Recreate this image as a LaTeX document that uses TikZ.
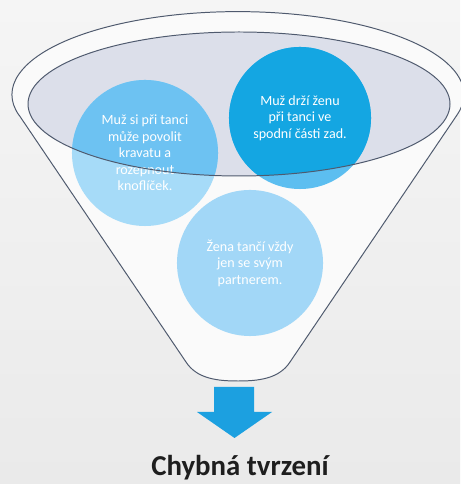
\documentclass[tikz,border=0pt]{standalone}
\usepackage{fontspec}
\setmainfont{Carlito}
\usepackage{tikz}
\usetikzlibrary{positioning, calc}
\definecolor{PageTop}{HTML}{F5F5F5}
\definecolor{PageBottom}{HTML}{EAEAEA}
\definecolor{FunnelWhite}{HTML}{FAFAFA}
\definecolor{FunnelLine}{HTML}{4F5A6E}
\definecolor{MouthGrey}{HTML}{DCDFEA}
\definecolor{BubbleOneLight}{HTML}{A6DBF8}
\definecolor{BubbleOneDark}{HTML}{6DC2F2}
\definecolor{BubbleTwoLight}{HTML}{5CBEF0}
\definecolor{BubbleTwoDark}{HTML}{14A6E2}
\definecolor{BubbleThree}{HTML}{A2D7F7}
\definecolor{ArrowBlue}{HTML}{1CA0E0}
\definecolor{TitleInk}{HTML}{1E1E1E}
\tikzset{
  % Funnel styles
  funnelline/.style={draw=FunnelLine, line width=0.7pt},
  % Bubble styles
  bubble/.style={circle, inner sep=0pt, minimum size=3.65cm, text=white, font=\fontsize{10}{11.8}\selectfont, align=center},
  % Title style
  verdict/.style={font=\fontsize{20.5}{22}\selectfont\bfseries, text=TitleInk, inner sep=0pt}
}

\begin{document}
\begin{tikzpicture}[x=0.025cm, y=0.025cm]
  % Canvas
  \shade[top color=PageTop, bottom color=PageBottom] (0,0) rectangle (460,484);
  \useasboundingbox (0,0) rectangle (460,484);
  \coordinate (rim) at (238,389);
  \coordinate (mouth) at (239,380);

  % Funnel body
  \fill[FunnelWhite] (rim) ellipse [x radius=226, y radius=83];
  \fill[FunnelWhite] (19,369) -- (186,122) .. controls (197,105) and (218,103) .. (238,103)
    .. controls (258,103) and (279,105) .. (290,122) -- (457,369) -- cycle;
  \draw[funnelline] (19,369) -- (186,122) .. controls (197,105) and (218,103) .. (238,103)
    .. controls (258,103) and (279,105) .. (290,122) -- (457,369)
    arc [start angle=-14.2, end angle=194.2, x radius=226, y radius=83];

  % Mouth of the funnel
  \fill[MouthGrey] (mouth) ellipse [x radius=211, y radius=72];

  % Bubbles
  \node[bubble, fill=BubbleOneLight,
    path picture={\fill[BubbleOneDark] (mouth) ellipse [x radius=211, y radius=72];}] (c1) at (145,331) {
    Muž si při tanci\\
    může povolit\\
    kravatu a\\
    rozepnout\\
    knoflíček.
  };
  \node[bubble, minimum size=3.55cm, fill=BubbleTwoLight,
    path picture={\fill[BubbleTwoDark] (mouth) ellipse [x radius=211, y radius=72];}] (c2) at (300,366) {
    Muž drží ženu\\
    při tanci ve\\
    spodní části zad.
  };
  \node[bubble, fill=BubbleThree] (c3) at (250,221) {
    Žena tančí vždy\\
    jen se svým\\
    partnerem.
  };

  \draw[funnelline] (mouth) ellipse [x radius=211, y radius=72];

  % Outlet arrow
  \fill[ArrowBlue] (214,97) -- (254,97) -- (254,72) -- (272,72) -- (234.5,46) -- (197,72) -- (214,72) -- cycle;

  % Title
  \node[verdict, anchor=base] (title) at (240,8) {Chybná tvrzení};
\end{tikzpicture}
\end{document}
